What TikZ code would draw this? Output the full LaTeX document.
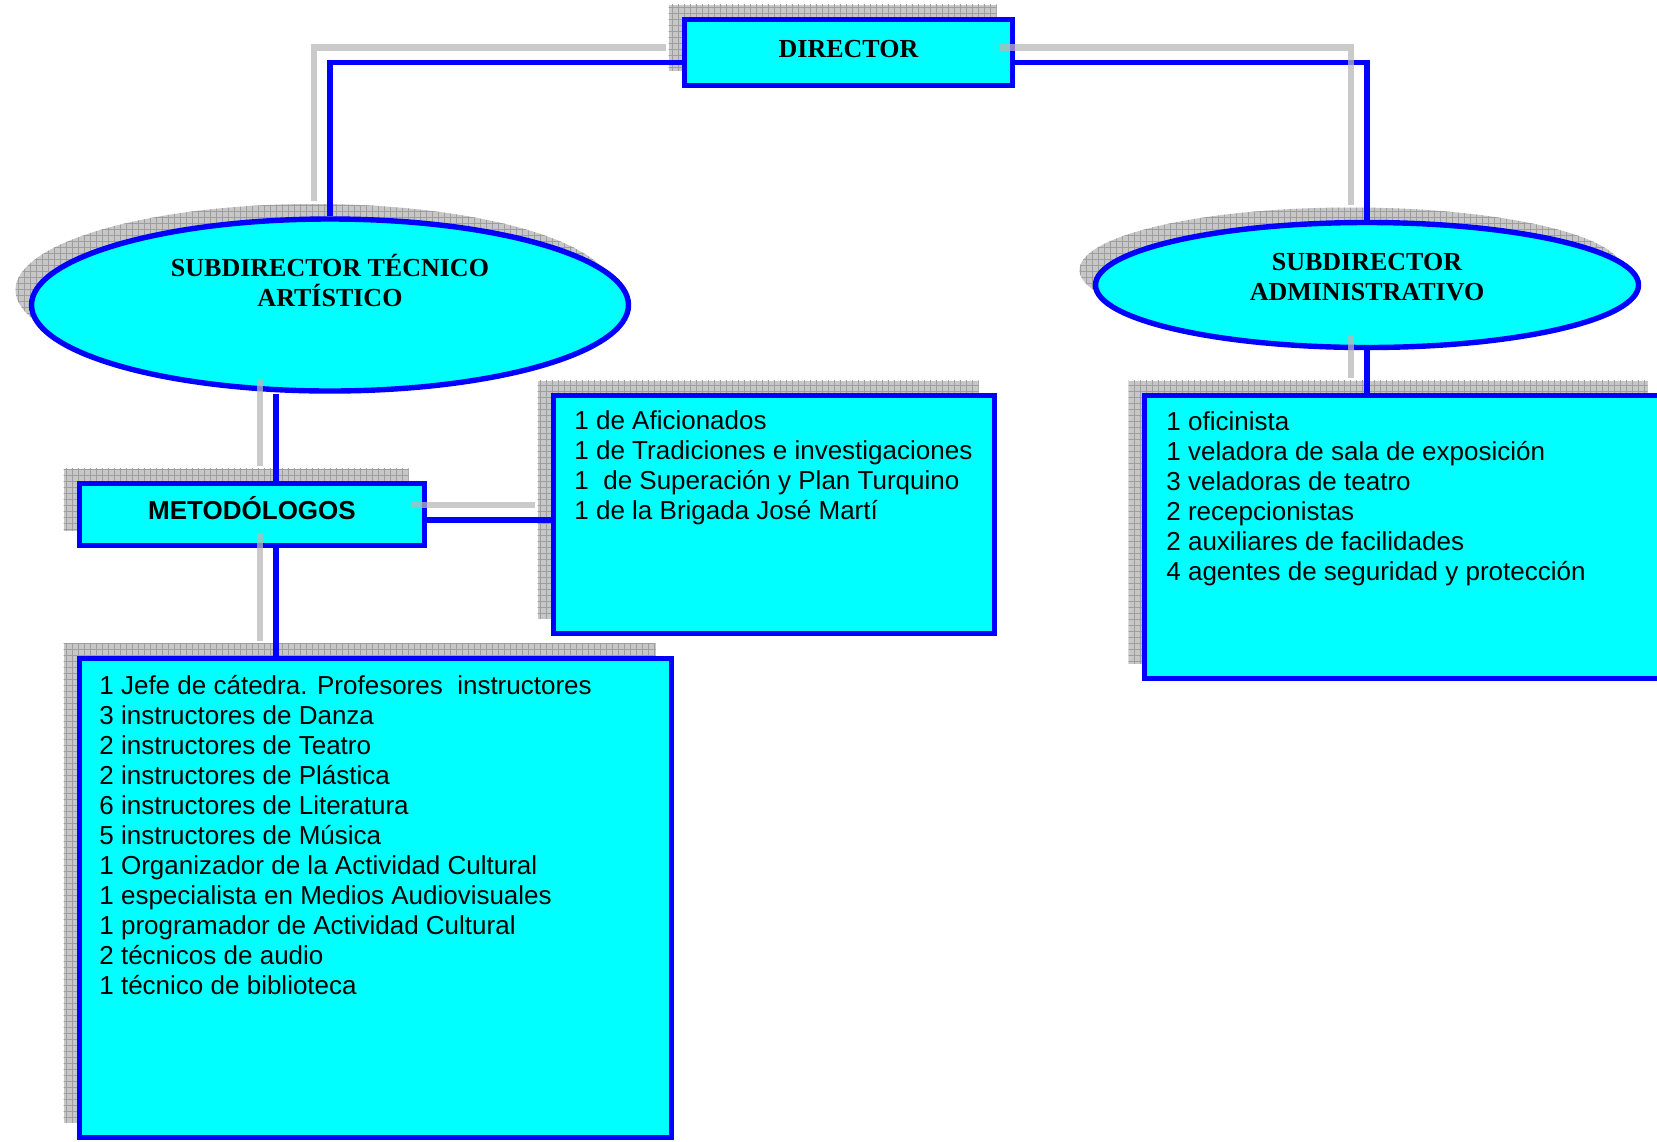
\documentclass[tikz,border=0pt]{standalone}
\usepackage{fontspec}
\setmainfont{Liberation Serif}
\setsansfont{Liberation Sans}
\usepackage{tikz}
\usetikzlibrary{shapes.geometric,shadows,patterns}

\definecolor{orgcyan}{RGB}{0,255,255}
\definecolor{orgblue}{RGB}{0,0,255}

\begin{document}
\begin{tikzpicture}[
  x=0.5pt, y=-0.5pt,
  shad/.style={general shadow={shadow xshift=-8pt, shadow yshift=7.5pt, fill=black!22, postaction={pattern=grid, pattern color=black!38}}},
  box/.style={shad, draw=orgblue, line width=2.7pt, fill=orgcyan, inner sep=0pt},
  head/.style={box, font=\fontsize{13}{15}\selectfont\bfseries, text depth=4pt},
  oval/.style={box, ellipse},
  title/.style={font=\fontsize{13}{15}\selectfont\bfseries, align=center, inner sep=0pt},
  list/.style={font=\sffamily\fontsize{13}{15}\selectfont, align=left, anchor=north west, inner sep=0pt},
  conn/.style={draw=orgblue, line width=2.6pt},
  shline/.style={draw=black!28, line width=3.3pt, opacity=0.75, transform canvas={xshift=-8pt, yshift=7.5pt}}
]
\path[use as bounding box, clip] (0,0) rectangle (1657,1141);

% boxes
\node[head, minimum width=164pt, minimum height=33pt] (dir) at (848.5,52.5) {DIRECTOR};
\node[oval, minimum width=298.5pt, minimum height=86pt] (sta) at (330,305) {};
\node[oval, minimum width=271.5pt, minimum height=62.5pt] (sad) at (1367,285) {};
\node[head, font=\sffamily\fontsize{13}{15}\selectfont\bfseries, text depth=7pt, minimum width=172.5pt, minimum height=31pt] (met) at (252,514.5) {METODÓLOGOS};
\node[box, minimum width=220.5pt, minimum height=119pt] (afi) at (774,514.5) {};
\node[box, minimum width=296pt, minimum height=239.5pt] (staff) at (375.5,898) {};
\node[box, minimum width=259.5pt, minimum height=141.5pt] (adm) at (1404,537) {};

% texts
\node[title] (statext) at ([yshift=12.5pt]sta.center) {SUBDIRECTOR TÉCNICO\\ARTÍSTICO};
\node[title] (sadtext) at ([yshift=4pt]sad.center) {SUBDIRECTOR\\ADMINISTRATIVO};
\node[list] (afilist) at (574,403) {\rule{0pt}{13pt}1 de Aficionados\\
  1 de Tradiciones e investigaciones\\
  1~ de Superación y Plan Turquino\\
  1 de la Brigada José Martí};
\node[list] (admlist) at (1166,404) {\rule{0pt}{13pt}1 oficinista\\
  1 veladora de sala de exposición\\
  3 veladoras de teatro\\
  2 recepcionistas\\
  2 auxiliares de facilidades\\
  4 agentes de seguridad y protección};
\node[list] (stafflist) at (99,668) {\rule{0pt}{13pt}1 Jefe de cátedra. Profesores~ instructores\\
  3 instructores de Danza\\
  2 instructores de Teatro\\
  2 instructores de Plástica\\
  6 instructores de Literatura\\
  5 instructores de Música\\
  1 Organizador de la Actividad Cultural\\
  1 especialista en Medios Audiovisuales\\
  1 programador de Actividad Cultural\\
  2 técnicos de audio\\
  1 técnico de biblioteca};

% connectors
\draw[conn] ([yshift=-5pt]dir.west) -| (sta.north);
\draw[conn] ([yshift=-5pt]dir.east) -| (sad.north);
\draw[conn] ([xshift=12pt]met.north) -- ([xshift=12pt]met.north |- sta.south);
\draw[conn] ([xshift=12pt]met.south) -- ([xshift=12pt]met.south |- staff.north);
\draw[conn] ([yshift=-2.75pt]met.east) -- ([yshift=-2.75pt]met.east -| afi.west);
\draw[conn] (sad.south) -- (sad.south |- adm.north);

% shadows of the connectors
\draw[shline] ([yshift=-5pt]dir.west) -| (sta.north);
\draw[shline] ([yshift=-5pt]dir.east) -| (sad.north);
\draw[shline] ([xshift=12pt]met.north) -- ([xshift=12pt]met.north |- sta.south);
\draw[shline] ([xshift=12pt]met.south) -- ([xshift=12pt]met.south |- staff.north);
\draw[shline] ([yshift=-2.75pt]met.east) -- ([yshift=-2.75pt]met.east -| afi.west);
\draw[shline] (sad.south) -- (sad.south |- adm.north);
\end{tikzpicture}
\end{document}
